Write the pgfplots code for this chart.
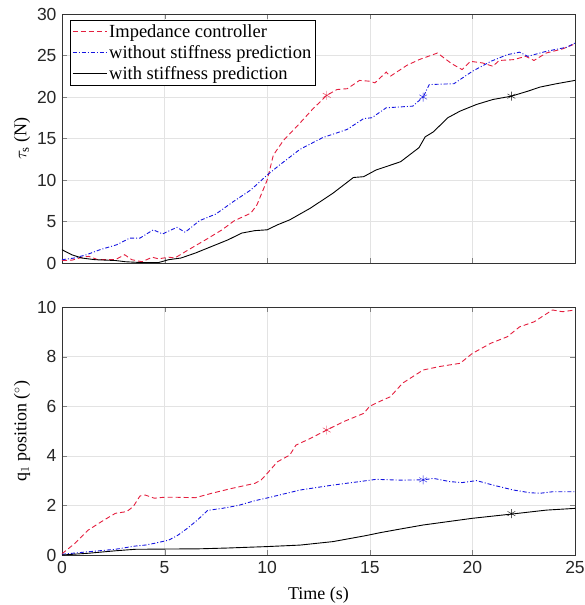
\documentclass[border=0pt]{standalone}
\usepackage{pgfplots}
\pgfplotsset{compat=1.18}
\usepackage{fontspec}
\setmainfont{Liberation Serif}
\setsansfont{Liberation Sans}
\definecolor{myred}{RGB}{228,30,62}
\definecolor{myblue}{RGB}{20,20,225}
\begin{document}
\begin{tikzpicture}
\pgfplotsset{
  every axis/.append style={
    scale only axis,
    width=513pt,
    xmin=0, xmax=25,
    xtick={0,5,10,15,20,25},
    tick align=inside,
    tick pos=both,
    major tick length=5pt,
    grid=major,
    grid style={gray!22, line width=0.4pt},
    axis line style={line width=0.6pt, black!80},
    /pgf/number format/assume math mode=true,
    tick label style={font=\fontsize{17.5}{19}\sffamily, black!85},
    xticklabel style={yshift=-3pt},
    yticklabel style={xshift=-2pt},
    label style={font=\fontsize{18}{20}\selectfont},
  },
  redl/.style={color=myred, line width=0.9pt, dash pattern=on 5pt off 3pt},
  bluel/.style={color=myblue, line width=0.9pt, dash pattern=on 4pt off 2pt on 1pt off 2pt},
  blackl/.style={color=black, line width=0.9pt},
}
\path[use as bounding box] (-62pt,14pt) rectangle (523pt,-591pt);
\begin{axis}[
  at={(0pt,0pt)}, anchor=north west,
  height=249pt,
  ymin=0, ymax=30,
  ytick={0,5,10,15,20,25,30},
  xticklabels={},
  ylabel={$\tau_{\mathrm{s}}$ (N)},
  ylabel style={at={(axis description cs:-0.078,0.5)}, anchor=center},
  legend style={at={(0.0156,0.975)}, anchor=north west, draw=black, line width=0.6pt,
    font=\fontsize{18.5}{20}\selectfont, inner sep=2pt, row sep=2.5pt},
  legend cell align=left,
  legend image code/.code={\draw[#1, line width=0.9pt] (0pt,0pt) -- (34pt,0pt);},
]
\addplot[redl] coordinates {(0,0.3)(0.5,0.35)(1.0,0.7)(1.3,0.8)(1.75,0.4)(2.6,0.4)(3.05,1.0)(3.4,0.4)(3.9,0.15)(4.4,0.7)(4.7,0.5)(5.2,0.7)(5.5,0.6)(6.1,1.5)(7.0,2.8)(7.8,4.0)(8.4,5.1)(9.2,6.0)(9.5,7.0)(10.0,10.0)(10.3,13.0)(10.8,14.8)(11.5,16.6)(12.2,18.5)(12.9,20.2)(13.4,20.9)(13.9,21.0)(14.5,22.0)(15.0,21.9)(15.25,21.7)(15.8,23.0)(16.0,22.5)(16.8,23.8)(17.4,24.5)(18.3,25.3)(19.0,24.0)(19.5,23.3)(19.9,24.3)(20.5,24.1)(21.0,23.7)(21.3,24.4)(22.0,24.5)(22.6,24.9)(23.0,24.4)(23.6,25.3)(24.4,25.8)(25,26.4)};
\addlegendentry{Impedance controller}
\addplot[bluel] coordinates {(0,0.4)(0.6,0.6)(1.2,1.0)(1.85,1.6)(2.67,2.2)(3.3,3.0)(3.8,3.0)(4.45,4.0)(4.9,3.5)(5.6,4.3)(6.0,3.7)(6.7,5.1)(7.5,5.9)(8.35,7.4)(9.2,8.8)(10.0,10.6)(10.6,11.8)(11.6,13.7)(12.7,15.1)(13.9,16.1)(14.7,17.4)(15.1,17.5)(15.8,18.7)(17.1,18.9)(17.6,20.0)(17.9,21.5)(19.1,21.6)(20.0,23.1)(20.9,24.3)(21.7,25.1)(22.3,25.4)(22.7,24.9)(23.6,25.5)(24.6,26.0)(25,26.5)};
\addlegendentry{without stiffness prediction}
\addplot[blackl] coordinates {(0,1.6)(0.47,1.0)(0.96,0.6)(1.6,0.4)(2.6,0.3)(3.1,0.15)(3.9,0.05)(4.7,0.05)(5.2,0.4)(5.8,0.6)(6.5,1.2)(7.3,2.0)(8.1,2.8)(8.75,3.6)(9.4,3.9)(10.0,4.0)(10.5,4.6)(11.1,5.2)(12.1,6.6)(13.2,8.4)(14.2,10.3)(14.7,10.4)(15.3,11.2)(16.5,12.2)(17.4,13.9)(17.7,15.2)(18.1,15.8)(18.8,17.5)(19.4,18.3)(20.2,19.1)(21.0,19.7)(21.9,20.1)(22.7,20.7)(23.3,21.2)(24.1,21.6)(25,22.0)};
\addlegendentry{with stiffness prediction}
\addplot[only marks, mark=asterisk, mark size=4.5pt, myred, forget plot] coordinates {(12.9,20.2)};
\addplot[only marks, mark=asterisk, mark size=4.5pt, myblue, forget plot] coordinates {(17.6,20.0)};
\addplot[only marks, mark=asterisk, mark size=4.5pt, black, forget plot] coordinates {(21.9,20.1)};
\end{axis}
\begin{axis}[
  at={(0pt,-293pt)}, anchor=north west,
  height=248pt,
  ymin=0, ymax=10,
  ytick={0,2,4,6,8,10},
  xlabel={Time (s)},
  xlabel style={yshift=-6pt},
  ylabel={q$_1$ position ($^\circ$)},
  ylabel style={at={(axis description cs:-0.078,0.5)}, anchor=center},
]
\addplot[redl] coordinates {(0,0.05)(0.63,0.47)(1.27,1.0)(1.93,1.35)(2.6,1.68)(3.15,1.75)(3.47,1.95)(3.8,2.38)(4.05,2.42)(4.5,2.29)(5.0,2.33)(5.5,2.33)(6.5,2.31)(7.3,2.49)(8.3,2.69)(9.4,2.89)(9.7,3.02)(10.0,3.29)(10.5,3.76)(11.1,4.03)(11.4,4.43)(12.1,4.7)(12.9,5.04)(13.7,5.37)(14.7,5.71)(15.0,6.0)(15.5,6.2)(16.0,6.38)(16.6,6.93)(17.6,7.46)(18.4,7.6)(19.4,7.73)(20.0,8.13)(20.9,8.54)(21.7,8.8)(22.3,9.2)(23.0,9.4)(23.9,9.88)(24.4,9.81)(25,9.88)};
\addplot[bluel] coordinates {(0,0.03)(1.27,0.13)(2.6,0.23)(3.56,0.36)(4.05,0.40)(4.5,0.47)(5.2,0.6)(5.65,0.8)(6.1,1.07)(6.6,1.41)(7.1,1.8)(7.8,1.88)(8.6,2.0)(9.4,2.19)(10.0,2.3)(11.6,2.62)(13.2,2.82)(14.5,2.96)(15.3,3.05)(16.5,3.02)(17.6,3.03)(18.1,3.09)(18.9,2.96)(19.5,2.92)(20.2,3.0)(21.0,2.82)(22.0,2.62)(22.8,2.51)(23.3,2.49)(23.9,2.55)(25,2.55)};
\addplot[blackl] coordinates {(0,0)(1.27,0.07)(2.6,0.17)(3.56,0.23)(5.0,0.24)(6.7,0.25)(8.0,0.28)(10.0,0.34)(11.6,0.4)(13.2,0.54)(14.8,0.78)(15.5,0.9)(16.5,1.05)(17.6,1.21)(20.0,1.48)(21.9,1.65)(23.6,1.81)(25,1.88)};
\addplot[only marks, mark=asterisk, mark size=4.5pt, myred] coordinates {(12.9,5.04)};
\addplot[only marks, mark=asterisk, mark size=4.5pt, myblue] coordinates {(17.6,3.03)};
\addplot[only marks, mark=asterisk, mark size=4.5pt, black] coordinates {(21.9,1.67)};
\end{axis}
\end{tikzpicture}
\end{document}
